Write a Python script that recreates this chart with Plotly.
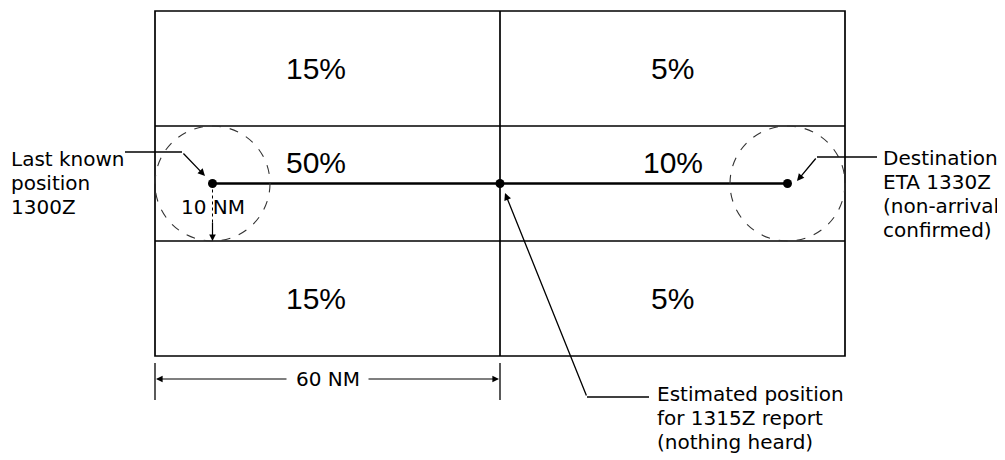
import plotly.graph_objects as go

# grille de probabilité (en %), lignes de haut en bas, colonnes gauche/droite
row_probs_left = [15, 50, 15]
row_probs_right = [5, 10, 5]
cell_width_nm = 60
cell_height_nm = 20

# positions le long de la route (NM depuis le bord gauche)
track_nm = 30
last_known_nm = 10
estimated_nm = 60
destination_nm = 110
search_radius_nm = 10
leg_nm = 60

# textes
label_last = ["Last known", "position", "1300Z"]
label_dest = ["Destination", "ETA 1330Z", "(non-arrival", "confirmed)"]
label_est = ["Estimated position", "for 1315Z report", "(nothing heard)"]

FONT_BIG = "Liberation Sans, Arial, Helvetica, sans-serif"
FONT = "DejaVu Sans, Verdana, sans-serif"
LABEL_SIZE = 20
PX = 5.75   # pixels par NM
OFF = 8     # marge du <body> de la page html


def nx(px):
    return (px - 155) / PX


def ny(py):
    return (py - 11) / PX


n_rows = len(row_probs_left)
total_w = cell_width_nm * 2
total_h = cell_height_nm * n_rows

fig = go.Figure()
shapes = []
annotations = []

# cadre et lignes de la grille
line_style = dict(color="black", width=1.7)
shapes.append(dict(type="rect", x0=0, x1=total_w, y0=0, y1=total_h, line=line_style))
shapes.append(dict(type="line", x0=cell_width_nm, x1=cell_width_nm, y0=0, y1=total_h, line=line_style))
for i in range(1, n_rows):
    shapes.append(dict(type="line", x0=0, x1=total_w, y0=i * cell_height_nm, y1=i * cell_height_nm,
                       line=line_style))

# pourcentages
for i in range(n_rows):
    yc = (i + 0.5) * cell_height_nm
    if i == 1:
        yc -= 3.6
    for j, val in enumerate([row_probs_left[i], row_probs_right[i]]):
        annotations.append(dict(x=(j + 0.5) * cell_width_nm - (2 if j == 0 else 0), y=yc,
                                text=f"{val}%", showarrow=False,
                                font=dict(family=FONT_BIG, size=30, color="black")))

# cercles de recherche (10 NM)
for c in [last_known_nm, destination_nm]:
    shapes.append(dict(type="circle", x0=c - search_radius_nm, x1=c + search_radius_nm,
                       y0=track_nm - search_radius_nm, y1=track_nm + search_radius_nm,
                       line=dict(color="#333", width=1.1, dash="dash")))

# route
fig.add_trace(go.Scatter(x=[last_known_nm, destination_nm], y=[track_nm, track_nm], mode="lines",
                         line=dict(color="black", width=2.6), hoverinfo="skip"))
fig.add_trace(go.Scatter(x=[last_known_nm, estimated_nm, destination_nm], y=[track_nm] * 3,
                         mode="markers", marker=dict(color="black", size=9), hoverinfo="skip"))

# flèche 10 NM
shapes.append(dict(type="line", x0=last_known_nm, x1=last_known_nm, y0=track_nm, y1=track_nm + 7,
                   line=dict(color="black", width=1, dash="dot")))
annotations.append(dict(x=last_known_nm, y=track_nm + search_radius_nm, ax=last_known_nm,
                        ay=track_nm + 6.5, xref="x", yref="y", axref="x", ayref="y", text="",
                        showarrow=True, arrowhead=2, arrowsize=1.1, arrowwidth=1.2, arrowcolor="black",
                        standoff=0))
annotations.append(dict(x=last_known_nm, y=ny(207), text="10 NM", showarrow=False,
                        font=dict(family=FONT, size=LABEL_SIZE, color="black")))

# cote 60 NM
dim_y = ny(379)
for xx in [0, leg_nm]:
    shapes.append(dict(type="line", x0=xx, x1=xx, y0=ny(363), y1=ny(400), line=dict(color="black", width=1.3)))
annotations.append(dict(x=leg_nm / 2, y=dim_y, text=f"{leg_nm} NM", showarrow=False,
                        font=dict(family=FONT, size=LABEL_SIZE, color="black")))
for tip, tail in [(0, nx(288)), (leg_nm, nx(367))]:
    annotations.append(dict(x=tip, y=dim_y, ax=tail, ay=dim_y, xref="x", yref="y", axref="x", ayref="y",
                            text="", showarrow=True, arrowhead=2, arrowsize=1.1, arrowwidth=1.2,
                            arrowcolor="black", standoff=1))

# lignes de rappel
leaders = [
    # (fin horizontale, coude, pointe)
    ((nx(125), ny(152)), (nx(182), ny(152)), (nx(205), ny(176))),
    ((nx(877), ny(157)), (nx(817), ny(157)), (nx(797), ny(181))),
    ((nx(649), ny(397)), (nx(587), ny(397)), (nx(505), ny(193))),
]
for end, bend, tip in leaders:
    shapes.append(dict(type="line", x0=end[0], x1=bend[0], y0=end[1], y1=bend[1],
                       line=dict(color="black", width=1.3)))
    annotations.append(dict(x=tip[0], y=tip[1], ax=bend[0], ay=bend[1], xref="x", yref="y",
                            axref="x", ayref="y", text="", showarrow=True, arrowhead=2, arrowsize=1.1,
                            arrowwidth=1.3, arrowcolor="black", standoff=0))

# étiquettes, une annotation par ligne (interligne 24 px)
for lines, px, py0 in [(label_last, 9, 159), (label_dest, 881, 158), (label_est, 655, 394)]:
    for k, txt in enumerate(lines):
        annotations.append(dict(x=nx(px), y=ny(py0 + 24 * k), text=txt, showarrow=False,
                                xanchor="left", yanchor="middle",
                                font=dict(family=FONT, size=LABEL_SIZE, color="black")))

fig.update_layout(
    width=1005, height=460,
    margin=dict(l=0, r=0, t=0, b=0),
    paper_bgcolor="white", plot_bgcolor="white",
    showlegend=False,
    shapes=shapes, annotations=annotations,
    xaxis=dict(range=[nx(OFF), nx(OFF + 1005)], visible=False, fixedrange=True),
    yaxis=dict(range=[ny(OFF + 460), ny(OFF)], visible=False, fixedrange=True),
)

fig.write_html("out.html")
